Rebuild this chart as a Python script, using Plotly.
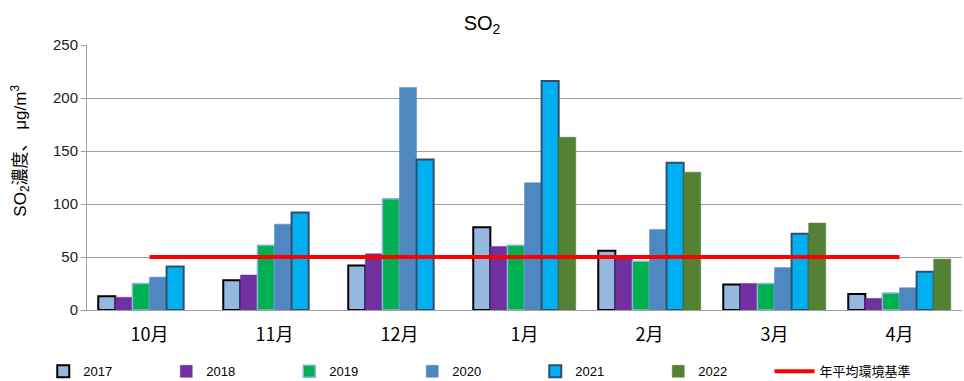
import plotly.graph_objects as go

months = ["10月", "11月", "12月", "1月", "2月", "3月", "4月"]
years = ["2017", "2018", "2019", "2020", "2021", "2022"]
v2017 = [13, 28, 42, 78, 56, 24, 15]
v2018 = [12, 33, 53, 60, 50, 25, 11]
v2019 = [25, 61, 105, 61, 46, 25, 16]
v2020 = [31, 81, 210, 120, 76, 40, 21]
v2021 = [41, 92, 142, 216, 139, 72, 36]
v2022 = [None, None, None, 163, 130, 82, 48]
standard = [50, 50, 50, 50, 50, 50, 50]
standard_name = "年平均環境基準"

series = [v2017, v2018, v2019, v2020, v2021, v2022]
fills = ["#95B8E0", "#7030A0", "#00B050", "#4F88C0", "#00B0F0", "#548235"]
lines = ["#000000", "#7030A0", "#8DB4E2", "#4F88C0", "#2F4F6F", "#548235"]
lw = [2, 0.5, 1.5, 0.5, 2, 0.5]

font = "Liberation Sans, Arial, Noto Sans CJK JP"

fig = go.Figure()
for y, vals, fc, lc, w in zip(years, series, fills, lines, lw):
    fig.add_trace(go.Bar(x=months, y=vals, name=y,
                         marker=dict(color=fc, line=dict(color=lc, width=w))))
fig.add_trace(go.Scatter(x=months, y=standard, name=standard_name, mode="lines",
                         line=dict(color="#FF0000", width=4), legend="legend2"))

fig.update_layout(
    width=964, height=381,
    margin=dict(l=87, r=2, t=45, b=71, autoexpand=False),
    paper_bgcolor="white", plot_bgcolor="white",
    barmode="group", bargap=0.18, bargroupgap=0,
    font=dict(family=font, color="#000000", size=14),
    title=dict(text="SO<sub>2</sub>", x=0.5, xanchor="center", y=0.94,
               yanchor="middle", font=dict(size=20, family=font)),
    showlegend=True,
    legend=dict(orientation="h", x=-0.05, xanchor="left", y=-0.175, yanchor="top",
                entrywidth=78, font=dict(size=13, family=font),
                itemwidth=30, tracegroupgap=0),
    legend2=dict(orientation="h", x=0.78, xanchor="left", y=-0.175, yanchor="top",
                 font=dict(size=13, family=font), itemwidth=40),
    xaxis=dict(showgrid=False, showline=True, linecolor="#A0A0A0", linewidth=1,
               ticks="", tickfont=dict(size=18, family="Noto Sans CJK JP"),
               ticklabelstandoff=8),
    yaxis=dict(range=[0, 250], dtick=50, showgrid=True, gridcolor="#A0A0A0",
               gridwidth=1, showline=True, linecolor="#A0A0A0", linewidth=1,
               ticks="outside", ticklen=5, tickcolor="#A0A0A0",
               tickfont=dict(size=15, family=font, color="#222222"),
               zeroline=False),
)
fig.add_annotation(text="SO<sub>2</sub>濃度、 μg/m<sup>3</sup>", textangle=-90,
                   xref="paper", yref="paper", x=-0.077, y=0.60,
                   xanchor="center", yanchor="middle", showarrow=False,
                   font=dict(size=17, family="Liberation Sans, Noto Sans CJK JP"))
fig.write_html("out.html")
